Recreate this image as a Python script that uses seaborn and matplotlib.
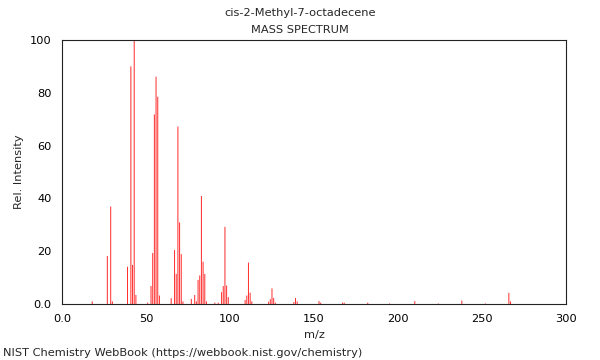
import numpy as np
import pandas as pd
import matplotlib
matplotlib.use('Agg')
import matplotlib.pyplot as plt
from matplotlib.ticker import MultipleLocator, FuncFormatter
import seaborn as sns

# Spektrum verisi (m/z, bağıl yoğunluk)
mz = [18, 27, 29, 30, 39, 41, 42, 43, 44, 51, 53, 54, 55, 56, 57, 58,
      65, 67, 68, 69, 70, 71, 72, 77, 79, 80, 81, 82, 83, 84, 85, 86,
      91, 93, 95, 96, 97, 98, 99, 109, 110, 111, 112, 113,
      123, 124, 125, 126, 127, 138, 139, 140, 153, 154, 167, 168, 182,
      195, 210, 224, 238, 252, 266, 267]
intensity = [1.0, 18.2, 36.9, 1.0, 14.1, 90.0, 14.8, 100.0, 3.4, 0.5, 6.8, 19.3, 71.8, 86.1, 78.5, 3.2,
             2.2, 20.4, 11.4, 67.2, 30.9, 18.9, 1.0, 1.9, 3.4, 1.0, 9.1, 10.8, 40.9, 16.0, 11.4, 1.0,
             0.5, 0.5, 4.5, 6.8, 29.2, 7.0, 2.6, 1.5, 3.2, 15.7, 4.3, 1.0,
             0.9, 1.8, 5.9, 2.3, 0.5, 0.7, 2.3, 1.0, 1.1, 0.5, 0.5, 0.5, 0.5,
             0.2, 1.1, 0.2, 1.3, 0.2, 4.2, 1.0]

df = pd.DataFrame({'mz': mz, 'intensity': intensity})

sns.set_style('white')
plt.rcParams['font.family'] = ['DejaVu Sans']

fig = plt.figure(figsize=(6, 3.6), dpi=100)
ax = fig.add_axes([0.1033, 0.1556, 0.84, 0.7333])

sns.barplot(data=df, x='mz', y='intensity', native_scale=True, width=0.6,
            color='#ff3030', linewidth=0, saturation=1, ax=ax)
for p in ax.patches:
    p.set_snap(False)

ax.set_xlim(0, 300)
ax.set_ylim(0, 100)
ax.xaxis.set_major_locator(MultipleLocator(50))
ax.xaxis.set_minor_locator(MultipleLocator(10))
ax.yaxis.set_major_locator(MultipleLocator(20))
ax.yaxis.set_minor_locator(MultipleLocator(5))
fmt = FuncFormatter(lambda v, p: '0.0' if v == 0 else f'{v:.0f}')
ax.xaxis.set_major_formatter(fmt)
ax.yaxis.set_major_formatter(fmt)
ax.tick_params(which='major', direction='out', length=4, width=0.8, labelsize=8.2, colors='black')
ax.tick_params(axis='x', which='minor', direction='in', length=3, width=0.8)
ax.tick_params(axis='y', which='minor', direction='out', length=3, width=0.8)
for s in ax.spines.values():
    s.set_color('#222222')
    s.set_linewidth(0.8)

ax.set_xlabel('m/z', fontsize=8.2)
ax.set_ylabel('Rel. Intensity', fontsize=8.2)

fig.text(0.5, 1 - 13 / 360, 'cis-2-Methyl-7-octadecene', ha='center', va='center', fontsize=8.2)
fig.text(0.5, 1 - 30 / 360, 'MASS SPECTRUM', ha='center', va='center', fontsize=8.2)
fig.text(3 / 600, 1 - 353 / 360, 'NIST Chemistry WebBook (https://webbook.nist.gov/chemistry)',
         ha='left', va='center', fontsize=8.2)

fig.savefig('out.png', dpi=100)
